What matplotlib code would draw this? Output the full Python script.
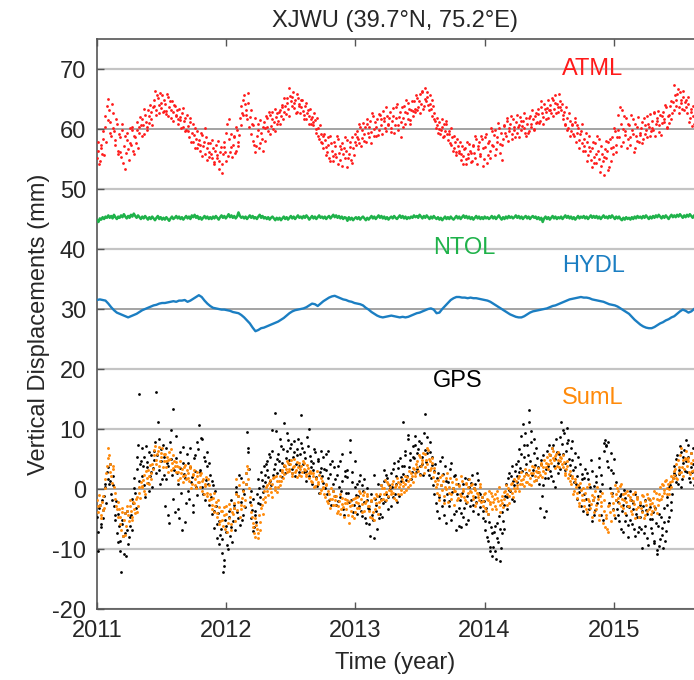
import numpy as np
import matplotlib
matplotlib.use("Agg")
import matplotlib.pyplot as plt

# ---------------------------------------------------------------
# Station XJWU vertical displacement series (mm)
# Point series: two interleaved sample sets, each every 4 days,
# the second offset by 2 days.  HYDL sampled every 8 days.
# ---------------------------------------------------------------
start_year = 2011.0
step_days_fast = 4
offset_days_second = 2
step_days_hydl = 8

atml = [
    55.2, 57.8, 54.6, 56.9, 58.3, 55.7, 60.4, 63.8,
    65.0, 61.2, 58.9, 62.7, 59.6, 57.3, 60.8, 56.4,
    58.7, 55.3, 59.9, 57.1, 53.4, 58.2, 56.6, 60.1,
    57.4, 59.8, 55.9, 58.6, 61.2, 56.8, 59.3, 60.7,
    61.6, 59.2, 62.4, 60.3, 63.1, 61.0, 62.9, 60.6,
    64.8, 66.3, 63.2, 65.1, 62.7, 64.4, 65.6, 63.0,
    64.1, 62.5, 65.3, 63.6, 61.8, 64.7, 62.9, 63.8,
    62.2, 60.9, 63.4, 61.5, 62.6, 60.4, 61.9, 59.8,
    60.5, 58.7, 61.1, 59.3, 57.9, 60.2, 58.4, 56.9,
    58.1, 56.4, 59.0, 57.2, 55.8, 58.6, 56.9, 55.3,
    57.6, 55.1, 56.8, 54.2, 57.3, 55.6, 53.4, 56.1,
    52.6, 55.8, 57.9, 54.7, 60.8, 58.3, 56.2, 59.1,
    57.4, 58.6, 56.3, 59.8, 57.9, 61.9, 63.8, 62.4,
    65.7, 63.1, 61.6, 64.4, 62.0, 59.2, 60.6, 57.3,
    56.1, 58.8, 60.9, 57.6, 59.4, 56.4, 61.2, 60.1,
    61.8, 59.7, 62.3, 60.5, 62.9, 61.1, 59.6, 62.6,
    61.4, 63.2, 62.1, 64.0, 62.8, 63.9, 65.1, 63.4,
    66.8, 64.6, 65.4, 63.5, 64.9, 62.9, 65.2, 64.1,
    63.6, 64.8, 62.4, 63.9, 61.7, 63.1, 62.2, 60.8,
    62.0, 60.6, 61.5, 59.3, 60.2, 58.4, 59.1, 57.6,
    56.8, 58.2, 55.7, 57.4, 55.1, 58.9, 56.3, 54.6,
    57.1, 55.4, 58.3, 56.0, 54.9, 57.7, 55.8, 58.6,
    56.4, 53.6, 55.9, 57.8, 54.3, 56.9, 59.2, 57.3,
    59.6, 57.7, 60.3, 58.5, 61.0, 59.2, 57.9, 60.8,
    58.6, 61.4, 59.5, 62.1, 60.0, 58.8, 61.6, 59.9,
    62.4, 60.7, 63.0, 61.3, 59.6, 62.2, 60.9, 62.8,
    60.2, 63.5, 59.4, 61.8, 64.1, 60.6, 62.9, 58.7,
    61.9, 63.8, 60.8, 62.6, 64.3, 61.5, 63.2, 62.1,
    64.6, 62.9, 65.2, 63.7, 65.8, 64.2, 66.1, 63.9,
    66.9, 65.3, 64.0, 65.6, 63.4, 64.8, 62.7, 61.4,
    60.6, 59.3, 61.1, 59.8, 60.4, 58.9, 59.7, 60.8,
    58.2, 59.1, 57.4, 58.6, 56.8, 57.9, 55.6, 57.2,
    56.3, 54.8, 57.1, 55.5, 56.9, 54.2, 55.8, 57.5,
    56.0, 54.6, 57.3, 55.2, 58.4, 56.7, 57.8, 55.9,
    58.3, 53.9, 57.0, 59.1, 55.6, 58.0, 56.4, 59.6,
    57.2, 59.8, 56.6, 58.7, 60.2, 57.5, 54.9, 58.4,
    60.6, 58.9, 61.3, 59.6, 60.8, 58.3, 61.7, 59.9,
    61.1, 59.4, 60.6, 62.0, 59.8, 61.4, 60.2, 58.8,
    60.9, 59.6, 62.2, 60.4, 61.6, 60.0, 62.7, 61.2,
    62.5, 61.3, 63.6, 62.0, 64.2, 62.8, 63.5, 61.9,
    64.0, 62.7, 64.9, 63.3, 65.6, 64.1, 62.9, 64.6,
    63.2, 61.6, 62.8, 60.7, 61.9, 60.2, 61.3, 59.6,
    60.6, 58.9, 61.2, 59.4, 60.1, 58.2, 59.6, 57.6,
    58.4, 56.3, 57.9, 55.7, 58.8, 54.9, 56.8, 55.4,
    57.6, 54.3, 56.4, 58.3, 53.8, 55.9, 52.4, 56.7,
    55.2, 57.9, 53.6, 56.8, 58.7, 55.9, 59.6, 57.4,
    62.4, 58.6, 60.9, 63.1, 57.8, 59.7, 61.8, 58.3,
    60.6, 57.4, 59.9, 61.6, 56.8, 58.9, 60.4, 57.9,
    59.3, 61.2, 58.4, 60.7, 59.8, 62.1, 60.3, 58.9,
    61.4, 59.9, 62.6, 60.8, 61.9, 59.5, 62.3, 61.0,
    62.8, 61.1, 63.6, 60.4, 62.4, 63.9, 61.7, 64.5,
    67.4, 64.8, 65.9, 63.6, 66.2, 64.4, 65.3, 63.1,
    64.9, 62.6, 64.1, 61.8, 63.4, 62.2, 60.9, 62.7,
]

atml_second = [
    56.4, 54.1, 57.3, 55.8, 59.6, 62.1, 57.9, 61.5,
    63.2, 59.4, 64.1, 60.2, 58.1, 61.6, 55.9, 59.2,
    56.2, 60.8, 54.4, 58.9, 56.0, 59.4, 54.9, 57.7,
    60.3, 56.4, 58.9, 57.6, 59.9, 60.4, 62.0, 58.8,
    60.7, 63.3, 61.2, 59.8, 62.2, 64.0, 61.7, 63.6,
    63.9, 62.4, 65.7, 64.0, 66.0, 63.5, 62.8, 64.9,
    63.0, 65.8, 62.2, 64.6, 63.1, 61.4, 64.0, 62.3,
    63.1, 61.7, 62.0, 60.2, 63.5, 61.3, 59.7, 62.4,
    59.6, 61.8, 57.8, 60.9, 59.0, 56.8, 59.7, 57.5,
    57.3, 59.4, 55.5, 57.8, 60.1, 54.9, 57.6, 56.2,
    55.9, 58.2, 54.5, 56.3, 55.2, 58.0, 54.7, 57.0,
    54.1, 57.0, 56.1, 59.4, 55.5, 61.6, 57.0, 55.4,
    58.8, 56.0, 60.4, 57.2, 59.0, 60.6, 62.7, 64.9,
    64.2, 62.4, 66.0, 60.3, 63.1, 60.9, 58.0, 61.8,
    57.1, 59.8, 56.9, 61.5, 58.3, 60.4, 58.0, 62.2,
    60.4, 62.8, 59.2, 61.6, 60.0, 63.4, 62.0, 60.9,
    62.9, 60.8, 63.6, 61.7, 65.2, 62.5, 64.4, 62.2,
    65.5, 63.9, 66.2, 64.3, 62.6, 65.9, 63.8, 62.7,
    64.9, 63.0, 61.6, 64.3, 62.7, 60.9, 63.4, 61.6,
    61.1, 62.7, 60.0, 61.8, 58.9, 60.7, 57.8, 58.9,
    59.1, 57.0, 56.2, 58.6, 54.6, 57.6, 55.5, 57.9,
    55.9, 58.8, 54.2, 57.1, 56.6, 53.9, 56.9, 55.2,
    58.1, 55.2, 57.0, 54.8, 58.6, 55.6, 57.9, 58.6,
    58.4, 60.9, 57.1, 59.9, 58.0, 60.4, 61.6, 59.3,
    60.3, 57.6, 62.7, 58.9, 61.2, 60.3, 59.0, 62.5,
    61.6, 59.2, 61.9, 60.1, 63.6, 60.7, 61.8, 59.5,
    61.4, 62.2, 60.7, 63.7, 59.8, 62.0, 61.2, 63.6,
    60.4, 62.9, 64.9, 61.7, 63.4, 60.9, 64.7, 63.0,
    63.4, 65.6, 63.1, 64.6, 62.6, 66.4, 63.4, 65.0,
    64.6, 66.2, 63.1, 64.2, 62.1, 63.8, 61.6, 60.2,
    61.8, 60.0, 59.1, 61.6, 58.6, 60.9, 61.3, 59.2,
    59.6, 57.6, 60.1, 56.4, 58.9, 56.2, 58.4, 56.0,
    57.8, 55.9, 54.1, 56.6, 55.0, 57.9, 55.1, 56.4,
    54.5, 57.2, 56.0, 58.8, 54.1, 57.2, 55.5, 58.9,
    56.9, 55.0, 58.6, 54.4, 57.6, 55.2, 60.1, 57.4,
    59.0, 55.7, 57.9, 61.0, 56.0, 59.3, 57.4, 60.5,
    59.3, 61.9, 58.0, 60.1, 62.2, 59.2, 60.4, 58.7,
    62.4, 60.3, 58.7, 61.3, 60.5, 62.7, 59.3, 61.8,
    59.4, 61.9, 60.8, 63.1, 59.8, 62.1, 61.0, 63.4,
    61.0, 64.6, 62.6, 60.9, 63.4, 61.6, 64.9, 63.1,
    63.2, 65.1, 62.1, 64.4, 62.6, 63.7, 65.8, 63.6,
    64.1, 62.4, 60.9, 63.6, 59.9, 62.6, 58.8, 60.8,
    59.2, 61.8, 57.9, 60.6, 56.9, 59.1, 60.8, 56.4,
    57.2, 59.3, 54.6, 57.0, 56.3, 53.6, 57.8, 54.4,
    55.9, 58.8, 55.0, 52.9, 57.2, 54.6, 55.4, 58.0,
    56.4, 53.1, 58.3, 54.7, 57.0, 60.2, 56.2, 58.7,
    59.9, 63.6, 57.2, 60.0, 62.1, 59.0, 56.9, 60.9,
    58.6, 62.3, 59.1, 56.2, 60.8, 58.0, 62.0, 59.0,
    60.1, 57.7, 61.9, 59.2, 58.6, 60.9, 62.5, 59.6,
    60.2, 62.9, 58.9, 61.3, 63.0, 60.6, 59.0, 62.1,
    61.7, 64.0, 60.2, 62.2, 61.0, 64.6, 62.6, 63.2,
    65.6, 63.8, 66.7, 62.7, 64.9, 63.4, 66.4, 64.5,
    63.6, 65.4, 61.2, 62.9, 60.5, 63.8, 61.5, 59.6,
]

ntol = [
    44.8, 44.5, 45.1, 44.9, 45.3, 45.0, 45.4, 45.2,
    45.6, 45.2, 45.5, 45.1, 45.7, 45.3, 45.0, 45.4,
    45.2, 45.6, 45.3, 45.8, 45.4, 45.1, 45.5, 45.2,
    45.7, 45.4, 45.9, 45.5, 45.2, 45.6, 45.3, 45.0,
    45.4, 45.1, 45.5, 45.2, 44.9, 45.3, 45.0, 45.4,
    45.1, 44.8, 45.2, 45.5, 45.0, 45.3, 44.9, 45.2,
    44.9, 45.3, 45.0, 44.7, 45.1, 45.4, 45.0, 45.2,
    45.5, 45.1, 45.4, 45.0, 45.3, 44.9, 45.2, 45.5,
    45.1, 45.4, 45.0, 45.6, 45.3, 45.7, 45.2, 45.5,
    45.0, 45.3, 44.9, 45.2, 45.5, 45.1, 45.4, 45.0,
    45.3, 45.0, 45.4, 45.1, 45.5, 45.2, 44.9, 45.3,
    45.6, 45.2, 45.5, 45.1, 45.4, 45.8, 45.3, 45.6,
    45.2, 45.5, 45.1, 45.4, 46.1, 45.5, 45.2, 45.4,
    45.1, 45.4, 45.0, 45.3, 45.6, 45.2, 45.5, 45.1,
    45.3, 45.0, 45.4, 45.7, 45.2, 45.5, 45.1, 45.3,
    45.0, 45.3, 44.9, 45.2, 45.4, 45.1, 44.8, 45.2,
    44.9, 45.2, 44.8, 45.1, 45.4, 45.0, 45.3, 44.9,
    45.2, 45.5, 45.1, 45.4, 45.0, 45.3, 45.6, 45.2,
    45.4, 45.1, 45.5, 45.2, 45.6, 45.3, 44.9, 45.2,
    45.5, 45.1, 45.4, 45.0, 45.3, 45.6, 45.2, 45.4,
    45.1, 45.4, 45.0, 45.3, 45.5, 45.1, 45.4, 45.7,
    45.3, 45.6, 45.2, 45.5, 45.1, 45.4, 45.0, 45.3,
    45.2, 44.7, 45.3, 44.9, 45.2, 44.8, 45.1, 45.3,
    45.0, 45.3, 44.9, 45.2, 45.4, 45.1, 44.8, 45.2,
    44.9, 45.2, 45.5, 45.1, 45.4, 45.0, 45.3, 45.6,
    45.2, 45.5, 45.1, 45.4, 45.0, 45.3, 44.9, 45.2,
    45.4, 45.1, 45.5, 45.2, 45.0, 45.3, 45.6, 45.2,
    45.5, 45.1, 45.4, 45.0, 45.3, 45.1, 45.4, 45.2,
    45.6, 45.3, 45.5, 45.2, 45.7, 45.4, 45.1, 45.5,
    45.2, 45.6, 45.3, 45.0, 45.4, 45.1, 45.5, 45.2,
    45.0, 45.3, 44.9, 45.2, 44.8, 45.1, 45.4, 45.0,
    45.3, 45.0, 45.4, 45.1, 44.9, 45.2, 45.5, 45.1,
    45.4, 45.0, 45.3, 45.6, 45.2, 45.5, 45.1, 45.4,
    45.0, 45.3, 44.9, 45.2, 45.5, 45.1, 45.4, 45.0,
    45.3, 45.0, 45.4, 45.1, 45.3, 45.0, 45.2, 45.5,
    45.1, 45.4, 45.0, 45.3, 45.6, 45.2, 44.9, 45.3,
    45.0, 45.4, 45.1, 45.5, 45.2, 45.4, 45.1, 45.3,
    45.6, 45.2, 45.5, 45.1, 45.4, 45.0, 45.3, 45.5,
    45.1, 45.4, 45.0, 45.3, 45.5, 45.2, 45.4, 45.0,
    45.3, 44.9, 45.2, 44.5, 45.1, 45.4, 45.0, 45.3,
    44.9, 45.2, 45.5, 45.1, 45.4, 45.0, 45.3, 45.1,
    45.4, 45.0, 45.3, 45.6, 45.2, 45.5, 45.1, 45.4,
    45.0, 45.3, 44.9, 45.2, 45.5, 45.1, 45.4, 45.2,
    45.5, 45.1, 45.4, 45.0, 45.3, 45.6, 45.2, 45.5,
    45.2, 45.5, 45.1, 45.4, 45.0, 45.3, 45.6, 45.2,
    45.4, 45.1, 45.5, 45.2, 45.6, 45.3, 45.0, 45.4,
    45.1, 45.4, 45.0, 44.8, 45.2, 44.9, 45.3, 45.0,
    45.2, 44.9, 45.3, 45.0, 45.4, 45.1, 45.5, 45.2,
    45.4, 45.1, 45.5, 45.2, 45.6, 45.3, 45.0, 45.4,
    45.1, 45.5, 45.2, 45.6, 45.3, 45.7, 45.4, 45.1,
    45.5, 45.2, 45.6, 45.3, 45.0, 45.4, 45.7, 45.3,
    45.6, 45.3, 45.7, 45.4, 45.8, 45.5, 45.2, 45.6,
    45.3, 45.7, 45.4, 45.8, 45.5, 45.2, 45.6, 45.4,
]

hydl = [
    31.5, 31.6, 31.5, 31.4, 30.9, 30.3, 29.8, 29.4, 29.2, 29.0,
    28.8, 28.6, 28.8, 29.0, 29.2, 29.5, 29.8, 30.0, 30.2, 30.4,
    30.6, 30.7, 30.9, 31.0, 31.0, 31.1, 31.2, 31.3, 31.2, 31.4,
    31.4, 31.5, 31.2, 31.4, 31.7, 32.0, 32.3, 32.0, 31.4, 30.9,
    30.5, 30.2, 30.1, 30.0, 29.9, 29.9, 29.8, 29.7, 29.5, 29.4,
    29.3, 29.0, 28.6, 28.1, 27.6, 26.9, 26.3, 26.5, 26.8, 26.9,
    27.1, 27.3, 27.5, 27.7, 27.9, 28.2, 28.5, 28.9, 29.3, 29.6,
    29.8, 29.9, 30.0, 30.1, 30.3, 30.6, 30.9, 30.8, 30.5, 30.9,
    31.3, 31.6, 31.9, 32.1, 32.2, 32.0, 31.8, 31.6, 31.5, 31.3,
    31.2, 31.0, 30.9, 30.8, 30.6, 30.2, 29.9, 29.5, 29.2, 28.9,
    28.7, 28.6, 28.7, 28.8, 28.9, 28.8, 28.7, 28.6, 28.7, 28.6,
    28.7, 28.9, 29.1, 29.3, 29.4, 29.6, 29.8, 30.0, 30.1, 29.9,
    29.3, 29.4, 30.0, 30.5, 31.0, 31.5, 31.8, 32.0, 32.0, 31.9,
    31.9, 31.8, 31.9, 31.8, 31.8, 31.7, 31.6, 31.5, 31.4, 31.2,
    30.9, 30.6, 30.3, 30.0, 29.7, 29.4, 29.1, 28.9, 28.7, 28.6,
    28.6, 28.8, 29.1, 29.4, 29.6, 29.7, 29.8, 29.9, 30.0, 30.1,
    30.3, 30.5, 30.6, 30.8, 31.0, 31.2, 31.4, 31.6, 31.7, 31.8,
    31.9, 32.0, 31.9, 31.9, 31.8, 31.6, 31.5, 31.4, 31.3, 31.2,
    31.0, 30.8, 30.7, 30.6, 30.4, 30.1, 29.8, 29.5, 29.2, 28.7,
    28.2, 27.8, 27.4, 27.1, 26.9, 26.8, 26.8, 27.0, 27.3, 27.6,
    27.8, 28.1, 28.3, 28.6, 28.8, 29.2, 29.6, 29.9, 29.7, 29.4,
    29.6, 30.0,
]

suml = [
    -1.8, -3.9, -2.6, -4.4, -1.2, -3.1, 1.6, 3.8,
    6.9, 4.2, 2.1, 3.3, 0.4, -1.6, -3.4, -2.2,
    -4.6, -6.8, -3.1, -5.2, -7.6, -2.9, -4.3, -1.8,
    -3.6, -5.1, -2.4, -4.0, -1.3, -2.8, -0.6, 1.2,
    0.3, 2.4, -0.9, 1.8, 3.1, 0.9, 2.6, 4.2,
    5.6, 7.2, 4.1, 6.3, 3.8, 5.4, 6.8, 4.6,
    5.9, 3.6, 4.9, 6.1, 3.2, 4.4, 5.6, 3.9,
    4.5, 2.8, 3.7, 1.9, 3.3, 2.2, 4.0, 1.6,
    2.7, 1.3, 3.5, 0.8, 2.4, 1.7, 0.2, 2.9,
    1.1, 2.3, -0.4, 1.6, 0.5, 2.0, -1.2, 0.7,
    -0.8, -2.6, -1.5, -3.8, -2.1, -4.6, -3.0, -5.4,
    -3.7, -6.2, -4.4, -2.9, -7.1, -4.9, -3.4, -5.8,
    -4.1, -2.3, 1.6, -3.5, -1.1, -4.7, -2.6, -0.4,
    -2.9, 0.8, 3.9, 1.7, -1.4, -3.8, -5.6, -7.4,
    -4.9, -6.6, -8.1, -5.5, -3.2, -1.6, -0.3, -2.2,
    0.6, -1.0, 1.5, -0.5, 0.9, 2.0, -0.2, 1.3,
    0.4, 2.1, 1.4, 3.2, 2.5, 3.9, 2.8, 4.4,
    3.3, 4.8, 2.6, 3.9, 2.9, 4.5, 3.6, 2.4,
    3.8, 2.9, 4.3, 3.1, 2.2, 3.5, 1.8, 2.7,
    1.2, 2.6, 0.5, 1.9, 0.8, 2.3, -0.2, 1.4,
    0.1, -1.4, 0.6, -2.3, -0.8, -3.1, -1.6, -0.4,
    -2.7, -1.2, -3.6, -2.0, -4.2, -1.5, -3.0, -2.4,
    -3.3, -1.8, -5.7, -2.9, -4.5, -1.6, -3.8, -2.2,
    -1.4, -3.2, -0.6, -2.5, -1.0, -3.7, -2.0, -0.8,
    -2.8, -4.6, -1.9, -3.9, -5.2, -2.4, -1.1, -3.0,
    -0.9, 0.7, -1.6, 0.2, -0.5, 1.1, -1.2, 0.4,
    -0.3, 1.4, -1.5, 0.6, 1.9, -0.8, 0.9, -0.1,
    1.2, -0.5, 0.8, 2.0, 0.3, 1.6, 2.7, 1.1,
    3.4, 2.2, 4.6, 3.0, 5.3, 3.8, 4.9, 2.7,
    5.8, 4.1, 6.5, 4.7, 3.5, 5.2, 2.8, 1.3,
    -0.6, 1.5, -1.8, 0.7, 2.4, -1.1, 0.4, 1.8,
    -2.2, 0.3, -0.9, 1.2, -2.7, -0.4, 0.9, -1.5,
    0.5, -1.2, 1.4, -0.3, -1.9, 0.8, -0.7, 1.6,
    -0.5, 0.9, -1.6, -0.2, -2.4, -0.9, -1.8, 0.4,
    -1.3, -2.9, -0.6, -3.7, -1.8, -0.4, -2.5, -1.2,
    -2.2, -0.8, -3.4, -1.5, 0.3, -2.6, -1.1, -3.0,
    -1.7, 0.6, -0.9, -2.3, -0.2, 1.0, -1.4, 0.2,
    1.3, 0.1, 2.2, 0.8, 2.9, 1.6, 0.5, 2.5,
    1.2, 3.1, 1.9, 0.7, 2.6, 3.6, 1.5, 2.9,
    3.5, 2.3, 4.3, 3.0, 4.9, 3.7, 5.3, 4.1,
    5.7, 4.4, 6.3, 4.9, 5.5, 3.9, 6.1, 4.6,
    5.1, 3.6, 4.5, 2.7, 3.9, 1.8, 3.0, 0.9,
    1.9, -0.4, 1.2, -1.5, 0.6, -2.3, -0.2, -1.0,
    -2.8, -0.6, -3.9, -1.7, 0.8, -2.5, -4.6, -1.3,
    -0.4, -3.3, -1.6, -5.2, -2.1, -0.7, -3.6, -6.3,
    -4.4, -7.1, -2.6, -5.4, -1.2, -3.5, 0.6, -1.8,
    -0.3, -2.4, 0.8, -1.6, -3.1, -0.7, -2.2, -1.0,
    -2.9, -1.3, -4.2, -2.0, -0.5, -3.4, -1.7, -4.6,
    -2.4, -3.8, -1.2, -4.4, -2.7, -0.9, -3.3, -1.8,
    -3.6, -1.5, -2.8, -0.7, -4.0, -1.9, 0.4, -1.1,
    0.7, -0.6, 1.5, 0.2, -0.9, 1.1, 0.4, 1.8,
    2.4, 4.1, 1.6, 3.6, 5.7, 2.9, 4.8, 3.4,
    6.4, 3.9, 5.2, 2.5, 4.3, 1.8, 3.1, 2.2,
]

suml_second = [
    -2.9, -1.0, -4.8, -2.2, -3.5, 0.2, 2.7, 5.2,
    5.6, 2.9, 1.0, 3.9, -0.7, -2.8, -4.6, -3.3,
    -5.8, -3.9, -7.9, -4.0, -6.1, -3.6, -5.3, -2.9,
    -4.7, -2.1, -3.4, -1.7, -3.9, 0.4, -1.5, 0.5,
    1.5, -0.3, 3.0, 1.0, 2.2, 4.0, 1.7, 3.4,
    6.5, 4.9, 5.8, 7.0, 4.7, 6.0, 3.6, 5.9,
    4.6, 5.4, 2.9, 5.0, 6.6, 3.5, 4.7, 2.8,
    3.8, 1.5, 4.6, 2.7, 1.2, 3.6, 2.4, 3.1,
    1.9, 3.9, 0.1, 2.5, 3.2, 0.7, 2.2, 1.1,
    0.3, 2.6, 1.3, -0.9, 0.9, -0.6, 1.6, -1.8,
    -1.7, -3.4, -0.6, -2.9, -4.0, -1.8, -5.8, -3.6,
    -5.1, -3.0, -6.6, -4.1, -5.6, -2.5, -6.8, -3.9,
    -3.1, -5.4, -0.8, -2.1, 0.6, -3.3, -1.5, 1.1,
    -1.8, 2.6, 3.3, 0.1, -2.6, -4.6, -6.4, -8.0,
    -6.0, -7.3, -4.3, -6.9, -2.6, -4.1, -1.3, 0.3,
    -0.4, 1.0, 0.2, -1.3, 1.8, 0.4, 2.2, -0.5,
    1.3, 0.6, 2.8, 1.9, 4.0, 3.3, 4.6, 3.0,
    4.1, 2.2, 3.6, 5.0, 3.1, 2.0, 4.3, 3.4,
    2.2, 4.6, 3.4, 2.5, 4.0, 2.6, 3.0, 1.4,
    2.1, 0.3, 1.6, 3.0, 1.1, -0.6, 1.8, 0.3,
    -0.9, 0.9, -2.0, -0.3, -1.7, 0.2, -2.6, -1.1,
    -1.9, -4.0, -2.8, -0.8, -3.3, -2.5, -4.7, -1.6,
    -2.3, -4.3, -2.0, -3.6, -2.6, -4.8, -1.5, -3.2,
    -2.4, -0.3, -1.7, -3.9, -0.5, -2.3, -1.1, -2.9,
    -3.7, -2.0, -4.9, -1.5, -3.3, -0.9, -4.2, -2.1,
    -1.9, 0.1, -0.9, 1.5, -1.8, 0.8, -0.1, -0.9,
    0.8, -0.7, 0.3, -1.9, 1.2, 0.4, -0.8, 1.7,
    0.5, 2.1, -0.2, 1.4, 3.0, 0.7, 2.2, 3.5,
    2.6, 4.1, 3.7, 5.6, 2.4, 4.4, 6.0, 3.6,
    4.8, 6.9, 5.0, 3.2, 4.4, 2.0, 3.5, 0.4,
    0.9, -1.0, 2.0, -0.2, 1.3, -2.3, 0.0, 2.6,
    -0.7, 1.8, -1.6, 0.2, -0.4, 1.6, -1.9, 0.6,
    -0.9, 2.2, 0.0, -1.4, 1.0, -2.2, 0.4, -0.3,
    0.6, -1.1, 0.2, -2.9, -0.6, -1.4, 0.8, -2.1,
    -2.0, -0.9, -3.2, -1.6, -4.1, -2.2, -0.7, -3.3,
    -1.6, -2.9, -0.3, -2.0, -3.8, -1.8, -2.4, -0.5,
    -0.4, -2.6, 0.1, -1.2, 0.8, -0.6, 1.6, -0.3,
    0.6, 1.8, -0.3, 1.5, 0.9, 2.1, 3.3, 1.1,
    2.3, 0.9, 2.6, 3.8, 1.3, 2.2, 3.0, 2.0,
    2.8, 4.0, 2.0, 3.7, 2.6, 4.4, 3.4, 5.8,
    4.8, 6.9, 5.2, 3.5, 5.9, 4.9, 3.6, 5.4,
    4.1, 5.6, 2.3, 3.3, 4.6, 2.5, 1.4, 2.1,
    -0.9, 1.7, 0.3, -0.7, -2.8, 1.0, -1.9, 0.2,
    -1.8, -3.4, 0.3, -2.0, -3.2, -1.0, -1.9, -3.8,
    -2.6, 0.4, -4.3, -1.1, -2.9, -5.6, -1.9, -4.8,
    -6.7, -2.9, -3.9, -0.6, -2.4, -4.4, -0.9, 0.2,
    -1.5, 0.5, -2.9, -0.8, -1.9, -4.0, -0.3, -2.8,
    -1.8, -3.7, -0.9, -2.5, -4.9, -1.4, -3.0, -2.2,
    -3.1, -1.0, -4.9, -2.0, -3.6, -1.5, -2.5, -4.2,
    -2.3, -0.4, -3.3, -1.6, -2.7, -0.9, -1.6, 0.9,
    -0.2, 1.3, -0.8, 0.9, 0.0, 2.2, 1.3, 3.0,
    3.3, 1.8, 4.9, 2.7, 6.8, 3.7, 2.2, 5.2,
    5.0, 4.6, 2.9, 6.0, 3.0, 4.9, 1.2, 3.9,
]

gps = [
    -4.6, -10.4, -2.7, -6.3, -3.5, -1.2, 0.8, 2.9,
    3.6, 1.4, -0.9, 2.2, -2.8, -5.1, -7.3, -4.2,
    -8.6, -13.9, -5.9, -10.8, -7.4, -3.6, -9.2, -6.1,
    -4.4, -1.7, 1.9, -0.6, 3.4, 7.4, 15.8, 4.6,
    2.1, 5.3, -1.4, 3.7, 1.0, 6.2, 2.8, 0.4,
    4.9, 7.8, 16.2, 11.1, 3.2, 6.6, 1.7, 5.4,
    -2.8, 6.9, 3.8, -5.6, 9.9, 2.4, 13.3, -3.9,
    5.2, 0.9, -4.8, 3.5, -6.9, 7.0, 1.8, -2.3,
    4.3, -1.6, 6.8, 2.0, -3.8, 5.6, 0.3, 7.9,
    10.6, 3.1, 8.4, -0.8, 4.7, 1.5, 6.1, -2.6,
    2.4, -4.2, 0.6, -6.5, -2.9, -8.1, -5.3, -7.6,
    -10.6, -13.8, -12.9, -6.2, -9.3, -4.6, -7.9, -1.8,
    -5.4, -2.7, 0.4, -3.9, -1.2, -6.0, 1.9, -4.3,
    -0.8, 2.6, 9.5, 6.9, -2.1, -4.8, -1.6, -6.3,
    -3.7, -0.9, 1.6, -2.5, 2.8, 0.5, 3.9, 1.2,
    4.6, 2.0, 5.3, 0.7, 9.8, 3.4, 12.6, 2.7,
    5.9, 3.1, 7.2, 4.4, 11.0, 2.6, 6.3, 8.1,
    4.8, 7.5, 3.3, 6.1, 2.1, 5.6, 8.4, 3.9,
    12.4, 6.8, 2.9, 5.2, 1.4, 7.1, 10.0, 3.6,
    0.9, 4.3, 6.2, 1.8, 5.0, -0.7, 3.5, 2.2,
    5.4, 0.2, 3.1, 6.3, -1.8, 2.5, 4.7, -0.4,
    1.6, -2.7, 3.9, 0.4, -1.3, 5.8, -3.4, 2.1,
    -0.6, 3.2, -2.2, 8.2, 1.1, -3.9, 4.6, -1.0,
    0.8, -2.9, 2.4, -4.5, -0.3, 1.7, -5.6, -1.9,
    -3.4, -7.8, -0.9, -5.2, 2.3, -2.6, -6.7, -1.1,
    -4.1, 0.6, -2.3, 3.1, -0.8, 1.9, -3.3, 0.2,
    2.6, -1.4, 4.3, 0.9, -2.1, 3.5, 5.1, 1.3,
    11.1, 3.8, 6.4, 2.2, 8.3, 4.9, 1.6, 7.2,
    5.2, 8.9, 3.4, 6.7, 2.5, 7.6, 4.1, 9.3,
    12.5, 6.0, 3.2, 7.9, 1.8, 5.4, -0.9, 4.2,
    -3.6, 2.7, -4.8, 0.6, 5.3, -1.9, 3.8, -5.7,
    1.2, -2.8, 4.4, -0.5, -4.1, 2.3, -6.9, 0.8,
    -3.2, -6.3, -0.7, -4.6, 1.9, -2.4, -5.1, 0.3,
    -1.8, 2.4, -3.7, 0.9, -2.2, 1.5, -0.6, -3.0,
    -1.4, -4.8, -6.9, -3.2, -8.7, -5.5, -10.4, -7.3,
    -9.6, -6.2, -11.6, -8.1, -4.5, -12.0, -7.4, -5.3,
    -2.6, 0.9, -1.3, 2.7, -0.4, 3.8, 1.4, -2.0,
    4.1, 2.2, 6.6, 3.5, 8.8, 10.9, 5.3, 2.7,
    7.4, 13.1, 4.6, 9.6, 3.2, 6.0, 1.5, 5.1,
    2.8, -3.1, 4.9, 0.6, -4.6, 3.3, 6.4, 1.9,
    5.6, 2.1, 7.3, 3.8, 0.4, 6.2, 4.4, 8.7,
    11.1, 5.8, 9.4, 3.1, 7.6, 8.1, 2.4, 6.8,
    4.9, 1.2, 3.6, -1.7, 5.4, 0.3, -2.9, 2.5,
    -0.8, 3.4, -4.1, 1.6, -2.6, 4.8, -5.3, 0.5,
    -3.5, 2.1, -1.2, 5.2, -4.4, 0.8, 7.6, 8.1,
    7.2, 3.7, -2.3, 6.0, -0.6, 2.6, -4.8, 1.1,
    -2.1, -5.4, -0.8, -3.6, -7.2, -1.5, -4.3, -6.0,
    -3.0, -0.4, -5.8, -2.4, -7.9, -4.1, -1.3, -6.4,
    -4.7, -9.9, -2.8, -6.2, -3.5, -8.1, -1.6, -5.0,
    -7.3, -3.9, -9.0, -5.6, -10.8, -4.2, -8.4, -6.5,
    -9.8, -3.1, -7.0, -1.4, -4.6, 0.7, -2.2, 1.8,
    3.9, 1.2, 5.6, 2.5, 7.1, 0.4, 4.3, 6.5,
    8.1, 2.9, 5.4, 1.1, 3.7, 6.8, 0.6, 2.3,
]

gps_second = [
    -7.2, -3.1, -5.8, -1.9, -4.9, 0.3, -2.3, 1.6,
    0.9, 4.1, -1.8, 0.6, -4.3, -2.0, -8.8, -6.1,
    -10.3, -5.2, -7.8, -4.0, -11.2, -6.9, -8.0, -4.7,
    -6.8, -2.4, 0.2, -3.1, 5.4, 1.3, 4.2, 6.8,
    3.8, 0.7, 7.2, 4.5, -0.4, 2.2, 5.6, 3.5,
    6.3, 2.6, 5.7, 8.4, 0.9, 4.6, 7.4, 2.3,
    1.6, 4.3, -4.4, 7.9, 5.0, -1.6, 3.2, 8.8,
    2.7, -3.3, 6.1, -0.6, 4.4, 2.5, -5.5, 5.8,
    -0.4, 3.6, 1.2, -2.7, 5.1, 3.0, -1.0, 6.6,
    2.8, 8.5, 0.4, 5.3, -1.9, 3.9, 0.8, 4.3,
    -1.3, 1.4, -3.6, -0.3, -5.9, -4.0, -9.1, -6.6,
    -8.4, -11.9, -5.1, -7.2, -10.0, -3.6, -6.4, -8.8,
    -3.2, -6.8, -0.5, -4.8, 2.3, -2.1, -5.2, -0.1,
    -3.0, 0.9, 6.1, 3.4, -0.4, -3.5, -7.0, -4.4,
    -5.5, -2.3, 0.2, -1.4, 1.5, -0.5, 2.4, 4.2,
    3.2, 5.8, 1.4, 6.4, 2.3, 4.1, 9.6, 5.0,
    4.7, 8.3, 2.0, 6.6, 3.8, 5.2, 9.4, 4.2,
    6.8, 2.6, 5.3, 8.0, 4.1, 6.7, 2.9, 5.9,
    7.7, 4.1, 6.1, 3.0, 8.6, 2.2, 5.5, 4.6,
    3.2, 6.7, 2.0, 0.5, 4.6, 2.9, 6.4, 1.0,
    3.3, 5.9, -0.9, 1.9, 4.2, -2.6, 0.9, 3.6,
    -1.2, 2.4, -2.0, 4.7, -0.3, 1.3, -4.3, 3.0,
    2.0, -0.6, 6.1, -1.8, 2.8, -2.6, 0.3, -4.1,
    -1.1, 1.3, -3.7, 0.6, -2.1, -4.8, 0.1, -3.2,
    -5.8, -2.0, -4.4, -8.1, -1.6, -3.7, 0.8, -4.9,
    -1.7, -4.6, 1.4, -2.0, 2.3, -1.4, 0.7, -2.8,
    0.3, 3.3, -0.8, 2.2, 4.6, -1.2, 2.0, 3.9,
    2.5, 5.6, 1.5, 9.0, 3.6, 6.0, 2.9, 5.4,
    7.3, 2.9, 6.0, 8.0, 3.9, 5.4, 2.3, 6.5,
    4.5, 8.7, 2.3, 6.1, 4.0, 0.7, 3.0, -2.4,
    1.9, -1.4, 4.6, -2.9, 2.5, -4.3, 1.3, -0.8,
    -2.0, 3.3, -5.2, 0.2, 2.1, -3.6, -0.9, -6.2,
    -1.9, -4.0, 0.9, -3.1, -5.8, -1.1, 1.6, -2.8,
    1.0, -2.7, 0.2, -1.4, 2.7, -4.2, -0.9, -2.0,
    -3.6, -2.0, -5.3, -8.0, -4.1, -9.6, -6.4, -11.1,
    -7.1, -10.3, -5.6, -8.9, -6.7, -9.8, -3.8, -6.6,
    -1.2, -3.4, 1.8, -0.1, 2.1, -1.6, 0.6, 3.0,
    1.1, 4.7, 2.9, 5.8, 3.0, 7.4, 9.4, 4.1,
    5.6, 11.2, 7.9, 2.4, 8.3, 4.0, 6.8, 3.6,
    0.9, 4.1, -1.2, 5.6, 1.8, -3.6, 3.9, 7.3,
    3.0, 6.8, 1.4, 5.0, 8.4, 2.7, 5.8, 3.3,
    7.5, 9.9, 4.4, 6.3, 10.2, 5.0, 4.0, 8.0,
    3.1, 6.0, 0.9, 2.1, -0.5, 4.2, 1.7, -3.7,
    1.9, -1.6, 2.7, -3.3, 0.4, 3.0, -1.8, -4.4,
    1.2, -2.4, 3.6, -0.4, 2.3, -5.1, 6.3, 7.4,
    4.6, 7.9, 0.2, 3.2, -3.3, 5.0, -1.8, -3.4,
    -4.3, -1.1, -6.7, -2.6, -0.2, -5.3, -2.9, -8.0,
    -5.1, -1.9, -3.3, -6.6, -0.9, -4.7, -7.2, -2.7,
    -6.7, -3.6, -7.3, -1.9, -4.2, -9.4, -3.0, -6.5,
    -5.0, -8.6, -3.1, -10.1, -6.2, -9.5, -4.6, -7.7,
    -5.5, -8.6, -2.6, -5.3, 0.3, -3.5, -0.8, 2.7,
    2.4, 5.0, 0.8, 3.2, 6.1, 1.7, 5.4, 3.0,
    4.6, 7.3, 1.9, 6.0, 2.8, 4.1, 8.0, 2.5,
]

year_ticks = [2011, 2012, 2013, 2014, 2015]
value_ticks = [-20, -10, 0, 10, 20, 30, 40, 50, 60, 70]
reference_levels = [60, 30, 0]

plt.rcParams["font.family"] = ["Liberation Sans", "DejaVu Sans"]
plt.rcParams["axes.unicode_minus"] = False

t_first = start_year + np.arange(len(atml)) * step_days_fast / 365.25
t_second = t_first + offset_days_second / 365.25
t_hydl = start_year + np.arange(len(hydl)) * step_days_hydl / 365.25

fig = plt.figure(figsize=(6.94, 6.80), dpi=100)
ax = fig.add_axes([97 / 694, 1 - 609 / 680, 597 / 694, 570 / 680])

x_min, x_max = 2011.0, 2011.0 + 597 / 129.2
ax.set_xlim(x_min, x_max)
ax.set_ylim(-20, 75)

# horizontal grid: light lines at every tick, darker reference levels
for v in value_ticks:
    if v in reference_levels:
        ax.axhline(v, color="#8a8a8a", lw=1.1, zorder=1)
    else:
        ax.axhline(v, color="#c4c4c4", lw=1.6, zorder=1)

dot = dict(ls="none", marker="o", mew=0, zorder=3)
ax.plot(t_first, atml, ms=2.0, color="#ff1a1a", **dot)
ax.plot(t_second, atml_second, ms=2.0, color="#ff1a1a", **dot)
ax.plot(t_first, ntol, color="#1fb24a", lw=1.8, zorder=3)
ax.plot(t_hydl, hydl, color="#1b7ec2", lw=1.7, zorder=3)
ax.plot(t_first, gps, ms=2.0, color="black", **dot)
ax.plot(t_second, gps_second, ms=2.0, color="black", **dot)
ax.plot(t_first, suml, ms=2.1, color="#ff8a0a", **dot)
ax.plot(t_second, suml_second, ms=2.1, color="#ff8a0a", **dot)

label_kw = dict(fontsize=17, ha="left", va="center", zorder=5)
ax.text(2014.60, 70.0, "ATML", color="#ff1a1a", **label_kw)
ax.text(2013.60, 40.2, "NTOL", color="#1fb24a", **label_kw)
ax.text(2014.60, 37.2, "HYDL", color="#1b7ec2", **label_kw)
ax.text(2013.60, 18.0, "GPS", color="black", **label_kw)
ax.text(2014.60, 15.2, "SumL", color="#ff8a0a", **label_kw)

ax.set_xticks(year_ticks)
ax.set_yticks(value_ticks)
ax.tick_params(axis="both", direction="in", length=5, width=1,
               color="#555555", labelsize=17, labelcolor="#262626",
               top=True, right=False, pad=8)

for side in ("left", "top", "bottom"):
    ax.spines[side].set_color("#555555")
    ax.spines[side].set_linewidth(1.2)
ax.spines["right"].set_visible(False)

ax.set_xlabel("Time (year)", fontsize=17, color="#262626", labelpad=7)
ax.set_ylabel("Vertical Displacements (mm)", fontsize=17,
              color="#262626", labelpad=1)
ax.set_title("XJWU (39.7°N, 75.2°E)", fontsize=17, color="#262626", pad=9)

fig.savefig("out.png", dpi=100)
